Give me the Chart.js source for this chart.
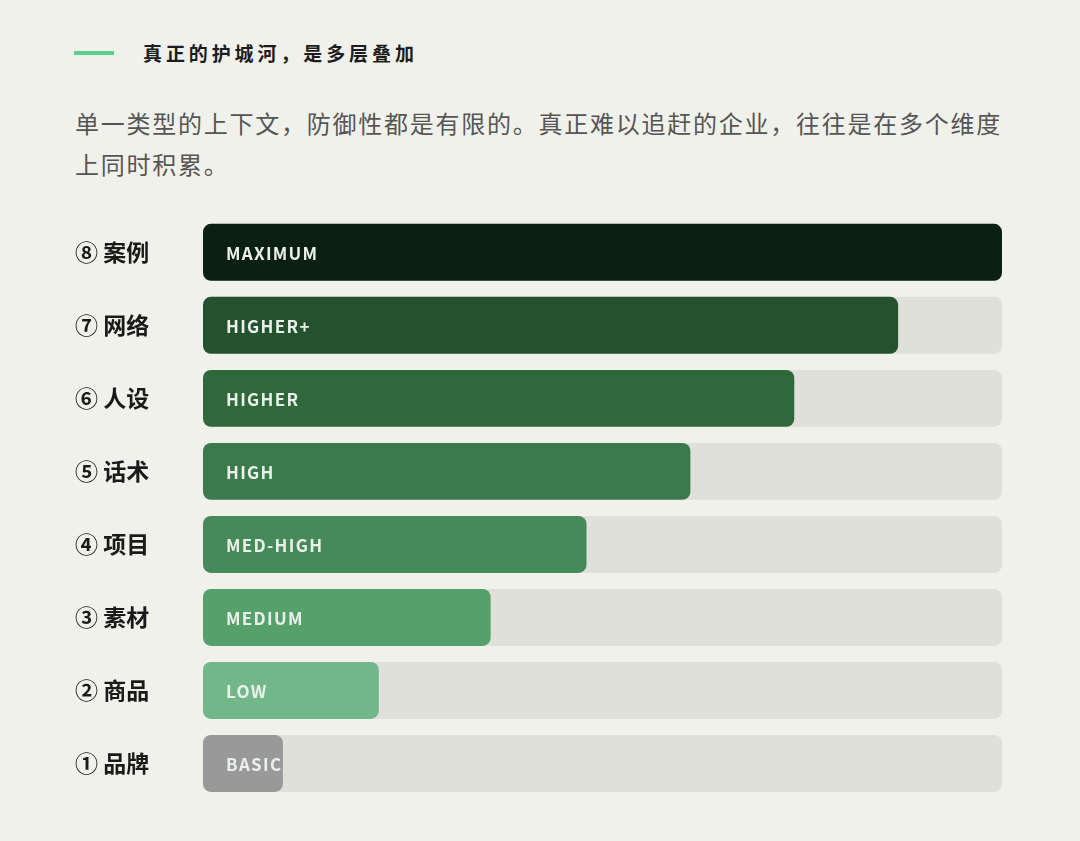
<!DOCTYPE html>
<html>
<head>
<meta charset="utf-8">
<script src="https://cdn.jsdelivr.net/npm/chart.js@4"></script>
<style>
body{margin:0;background:#f1f1ec;width:1080px;height:841px;overflow:hidden;font-family:"Noto Sans CJK SC","Noto Sans",sans-serif;position:relative}
.bar{position:absolute;left:74px;top:51px;width:40px;height:4px;background:#5fd08b}
.title{position:absolute;left:143px;top:39px;font-size:19px;font-weight:700;letter-spacing:3.9px;color:#1d1d1d}
.sub{position:absolute;left:75px;top:102px;width:945px;font-size:24px;line-height:41px;letter-spacing:1.75px;color:#555}
.wrap{position:absolute;left:0;top:202px;width:1080px;height:613px}
</style>
</head>
<body>
<div class="bar"></div>
<div class="title">真正的护城河，是多层叠加</div>
<div class="sub">单一类型的上下文，防御性都是有限的。真正难以追赶的企业，往往是在多个维度上同时积累。</div>
<div class="wrap"><canvas id="c"></canvas></div>
<script>
// categorie, dall'alto verso il basso
const categorie = ["⑧ 案例","⑦ 网络","⑥ 人设","⑤ 话术","④ 项目","③ 素材","② 商品","① 品牌"];
const valori = [100, 87, 74, 61, 48, 36, 22, 10];
const livelli = ["MAXIMUM","HIGHER+","HIGHER","HIGH","MED-HIGH","MEDIUM","LOW","BASIC"];
const colori = ["#0b1f12","#24522e","#2f683b","#3b7a4a","#478a59","#56a06c","#72b78a","#999999"];
const pista = categorie.map(()=>100);

const testoBarre = {
	id: "testoBarre",
	afterDatasetsDraw(chart){
		const ctx = chart.ctx;
		const meta = chart.getDatasetMeta(1);
		ctx.save();
		ctx.font = "700 17px 'Noto Sans CJK SC','Noto Sans',sans-serif";
		ctx.textBaseline = "middle";
		ctx.fillStyle = "#eaf0ea";
		if("letterSpacing" in ctx) ctx.letterSpacing = "1.3px";
		meta.data.forEach((b,i)=>{
			ctx.fillText(livelli[i], b.base + 23, b.y + 1);
		});
		ctx.restore();
	}
};

new Chart(document.getElementById("c"), {
	type: "bar",
	data: {
		labels: categorie,
		datasets: [
			{ data: pista, backgroundColor: "#e0e0da", borderRadius: 8, borderSkipped: false, order: 2 },
			{ data: valori, backgroundColor: colori, borderRadius: 8, borderSkipped: false, order: 1 }
		]
	},
	options: {
		indexAxis: "y",
		responsive: true,
		maintainAspectRatio: false,
		animation: false,
		layout: { padding: { left: 75, right: 78, top: 4, bottom: 15 } },
		datasets: { bar: { grouped: false, barPercentage: 0.78, categoryPercentage: 1 } },
		scales: {
			x: { min: 0, max: 100, display: false },
			y: {
				grid: { display: false },
				border: { display: false },
				afterFit(s){ s.width = 128; },
				ticks: {
					crossAlign: "far",
					padding: 0,
					color: "#1a1a1a",
					font: { family: "'Noto Sans CJK SC','Noto Sans',sans-serif", size: 23, weight: "700" }
				}
			}
		},
		plugins: { legend: { display: false }, tooltip: { enabled: false } }
	},
	plugins: [testoBarre]
});
</script>
</body>
</html>
